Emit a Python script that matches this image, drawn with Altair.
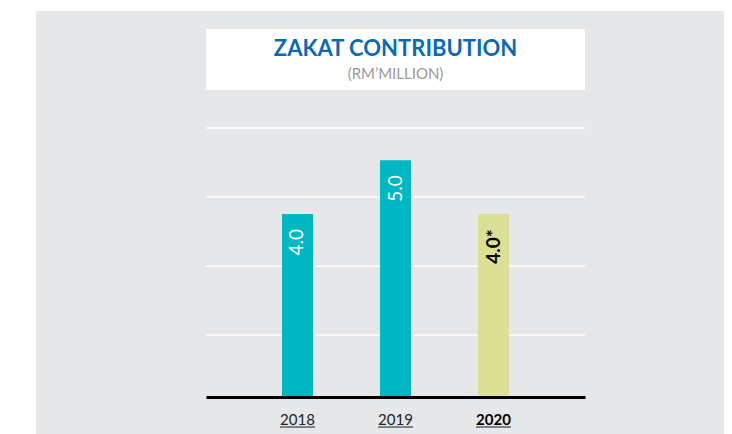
import altair as alt
import pandas as pd

# ---- data ----
YEARS = ["2018", "2019", "2020"]
VALUES = [4.0, 5.0, 4.0]
LABELS = ["4.0", "5.0", "4.0*"]
KIND = ["actual", "actual", "estimate"]
GRID_VALUES = [1.75, 3.03, 4.32, 5.6]
TITLE = "ZAKAT CONTRIBUTION"
SUBTITLE = "(RM’MILLION)"

# ---- style ----
W, H = 379, 269
Y_DOMAIN = [0.6, 5.6]
CYAN = "#00b7c2"
LIME = "#dce094"
BG = "#e6e7e9"
BLUE = "#0b6ab2"
FONT = "Lato"

df = pd.DataFrame({"year": YEARS, "value": VALUES, "label": LABELS, "kind": KIND})
grid_df = pd.DataFrame({"g": GRID_VALUES})
one = pd.DataFrame({"a": [0]})

X = alt.X(
    "year:N",
    sort=YEARS,
    scale=alt.Scale(domain=YEARS, paddingInner=0.6837, paddingOuter=0.7755),
    axis=alt.Axis(
        title=None,
        labelAngle=0,
        ticks=False,
        grid=False,
        labelPadding=15,
        labelFont=FONT,
        labelFontSize=15,
        labelColor=alt.condition("datum.value == '2020'", alt.value("#000000"), alt.value("#222222")),
        labelFontWeight=alt.condition("datum.value == '2020'", alt.value("bold"), alt.value("normal")),
        domainColor="#000000",
        domainWidth=3,
        zindex=1,
    ),
)
YSCALE = alt.Scale(domain=Y_DOMAIN, zero=False, nice=False)

bg = alt.Chart(one).mark_rect(color=BG).encode(
    x=alt.value(-170), x2=alt.value(526), y=alt.value(-117), y2=alt.value(306)
)
box = alt.Chart(one).mark_rect(color="white").encode(
    x=alt.value(0), x2=alt.value(W), y=alt.value(-99), y2=alt.value(-38)
)
title = alt.Chart(pd.DataFrame({"t": [TITLE]})).mark_text(
    font=FONT, fontSize=22, fontWeight="bold", color=BLUE, align="center", baseline="alphabetic",
).encode(text="t:N", x=alt.value(W / 2), y=alt.value(-72))
subtitle = alt.Chart(pd.DataFrame({"t": [SUBTITLE]})).mark_text(
    font=FONT, fontSize=15, color="#9a9a9a", align="center", baseline="alphabetic",
).encode(text="t:N", x=alt.value(W / 2), y=alt.value(-49))

grid = alt.Chart(grid_df).mark_rule(color="white", strokeWidth=1.3).encode(
    y=alt.Y("g:Q", scale=YSCALE, axis=None)
)

bars = alt.Chart(df).mark_bar(clip=True).encode(
    x=X,
    y=alt.Y("value:Q", scale=YSCALE, axis=None),
    color=alt.Color("kind:N", scale=alt.Scale(domain=["actual", "estimate"], range=[CYAN, LIME]), legend=None),
)

lab_actual = alt.Chart(df).transform_filter("datum.kind == 'actual'").mark_text(
    angle=270, align="right", baseline="middle", dx=-15, fontSize=19, font=FONT, color="white"
).encode(x=X, y=alt.Y("value:Q", scale=YSCALE, axis=None), text="label:N")
lab_est = alt.Chart(df).transform_filter("datum.kind == 'estimate'").mark_text(
    angle=270, align="right", baseline="middle", dx=-15, fontSize=19, font=FONT,
    fontWeight="bold", color="black"
).encode(x=X, y=alt.Y("value:Q", scale=YSCALE, axis=None), text="label:N")

underline = alt.Chart(df).mark_tick(orient="horizontal", size=35, thickness=1.3, color="#222222").encode(
    x=X, y=alt.value(299)
)

chart = alt.layer(bg, box, title, subtitle, grid, bars, lab_actual, lab_est, underline).properties(
    width=W,
    height=H,
    padding={"left": 198, "top": 120, "right": 139, "bottom": 37},
    autosize="none",
    background="white",
).configure_view(stroke=None)

chart.save("out.html", embed_options={"renderer": "svg", "actions": False})
